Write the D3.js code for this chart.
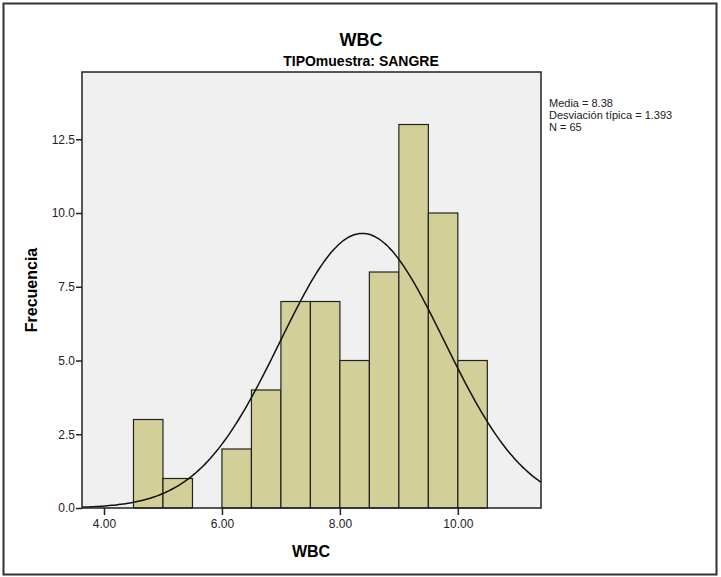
<!DOCTYPE html>
<html>
<head>
<meta charset="utf-8">
<script src="https://cdn.jsdelivr.net/npm/d3@7"></script>
<style>
  body { margin: 0; background: #fff; }
  text { font-family: "Liberation Sans", Arial, sans-serif; }
</style>
</head>
<body>
<div id="chart"></div>
<script>
// Histogram bins (lower edge, width 0.5) and counts
var binStarts = [4.5, 5.0, 5.5, 6.0, 6.5, 7.0, 7.5, 8.0, 8.5, 9.0, 9.5, 10.0];
var counts = [3, 1, 0, 2, 4, 7, 7, 5, 8, 13, 10, 5];
var binWidth = 0.5;
var xTicks = [4, 6, 8, 10];
var yTicks = [0, 2.5, 5, 7.5, 10, 12.5];
var media = 8.38, desv = 1.393, n = 65;
var statLines = ["Media = 8.38", "Desviación típica = 1.393", "N = 65"];

var svgWidth = 721, svgHeight = 577;
var margin = { top: 72, left: 82 };
var chartWidth = 459, chartHeight = 436;

var svg = d3.select("#chart").append("svg")
    .attr("width", svgWidth)
    .attr("height", svgHeight);

// outer frame
svg.append("rect")
    .attr("x", 3.5).attr("y", 3.5)
    .attr("width", 713).attr("height", 571)
    .attr("fill", "none").attr("stroke", "#333").attr("stroke-width", 2);

var x = d3.scaleLinear().domain([3.627, 11.41]).range([0, chartWidth]);
var y = d3.scaleLinear().domain([0, 14.78]).range([chartHeight, 0]);

var g = svg.append("g").attr("transform", `translate(${margin.left}, ${margin.top})`);

// plot background
g.append("rect")
    .attr("width", chartWidth).attr("height", chartHeight)
    .attr("fill", "#f0f0f0");

// bars
g.selectAll("rect.bar")
    .data(binStarts.map((s, i) => ({ s: s, c: counts[i] })).filter(d => d.c > 0))
    .enter().append("rect")
    .attr("class", "bar")
    .attr("x", d => x(d.s))
    .attr("y", d => y(d.c))
    .attr("width", d => x(d.s + binWidth) - x(d.s))
    .attr("height", d => y(0) - y(d.c))
    .attr("fill", "#d3cf98")
    .attr("stroke", "#222")
    .attr("stroke-width", 1.2);

// normal curve from the stated mean, sd and N
var curveX = d3.range(0, 201).map(i => 3.627 + (11.41 - 3.627) * i / 200);
var line = d3.line()
    .x(v => x(v))
    .y(v => y(n * binWidth * Math.exp(-0.5 * Math.pow((v - media) / desv, 2)) / (desv * Math.sqrt(2 * Math.PI))))
    .curve(d3.curveBasis);
g.append("path")
    .datum(curveX)
    .attr("d", line)
    .attr("fill", "none")
    .attr("stroke", "#111")
    .attr("stroke-width", 1.5);

// plot frame
g.append("rect")
    .attr("width", chartWidth).attr("height", chartHeight)
    .attr("fill", "none").attr("stroke", "#222").attr("stroke-width", 1.5);

// axes
var leftAxis = d3.axisLeft(y).tickValues(yTicks).tickFormat(d3.format(".1f")).tickSize(6).tickSizeOuter(0);
var bottomAxis = d3.axisBottom(x).tickValues(xTicks).tickFormat(d3.format(".2f")).tickSize(7).tickSizeOuter(0);

var ya = g.append("g").call(leftAxis);
var xa = g.append("g").attr("transform", `translate(0, ${chartHeight})`).call(bottomAxis);
[ya, xa].forEach(a => {
    a.select(".domain").remove();
    a.selectAll(".tick line").attr("stroke", "#222").attr("stroke-width", 1.5);
    a.selectAll(".tick text").attr("fill", "#222").style("font-size", "12px");
});
ya.selectAll(".tick text").attr("x", -7);
xa.selectAll(".tick text").attr("y", 11);

// titles
svg.append("text").attr("x", 361).attr("y", 46)
    .attr("text-anchor", "middle").style("font-size", "18px").style("font-weight", "bold")
    .text("WBC");
svg.append("text").attr("x", 361).attr("y", 66)
    .attr("text-anchor", "middle").style("font-size", "14px").style("font-weight", "bold")
    .text("TIPOmuestra: SANGRE");
svg.append("text").attr("x", 311).attr("y", 557)
    .attr("text-anchor", "middle").style("font-size", "16px").style("font-weight", "bold")
    .text("WBC");
svg.append("text")
    .attr("transform", "translate(37, 290) rotate(-90)")
    .attr("text-anchor", "middle").style("font-size", "16px").style("font-weight", "bold")
    .text("Frecuencia");

// statistics legend
svg.append("g").selectAll("text")
    .data(statLines)
    .enter().append("text")
    .attr("x", 549)
    .attr("y", (d, i) => 107 + i * 12)
    .style("font-size", "11px")
    .attr("fill", "#222")
    .text(d => d);
</script>
</body>
</html>
